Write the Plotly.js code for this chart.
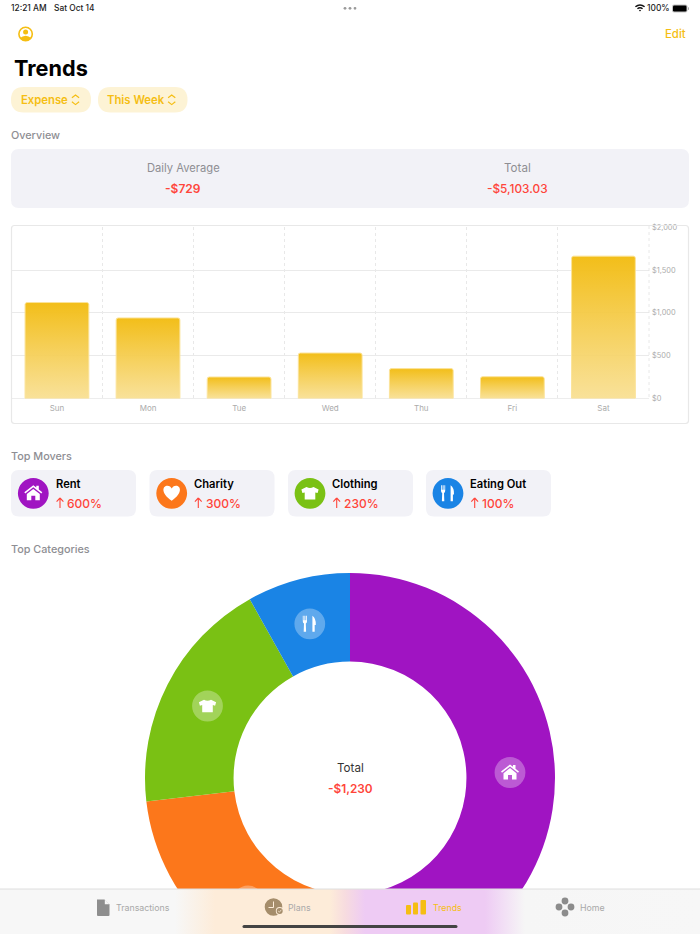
<!DOCTYPE html>
<html><head><meta charset="utf-8">
<script src="https://cdn.plot.ly/plotly-3.0.1.min.js"></script>
<style>html,body{margin:0;padding:0;width:700px;height:934px;overflow:hidden;background:#fff}</style>
</head><body><div id="chart" style="width:700px;height:1000px"></div>
<script>
// ---- data ----
const days = ['Sun','Mon','Tue','Wed','Thu','Fri','Sat'];
const dayValues = [1120,940,250,530,348,253,1662];
const yTickVals = [0,500,1000,1500,2000];
const yTickText = ['$0','$500','$1,000','$1,500','$2,000'];
const categories = ['Rent','Charity','Clothing','Eating Out'];
const categoryValues = [600,300,230,100];
const categoryColors = ['#A014C2','#FC771B','#7AC114','#1A84E5'];
const moverPercents = ['600%','300%','230%','100%'];

// ---- page geometry ----
const H = 1000, YEL = '#F5BE13', RED = '#FF453A', GREY = '#8E8E93', CARD = '#F2F2F7';
const FONT = 'Inter, "Noto Sans", sans-serif';
const shapes = [], annotations = [];
const rr = (x0,y0,x1,y1,r)=>`M${x0+r},${y0}L${x1-r},${y0}Q${x1},${y0} ${x1},${y0+r}L${x1},${y1-r}Q${x1},${y1} ${x1-r},${y1}L${x0+r},${y1}Q${x0},${y1} ${x0},${y1-r}L${x0},${y0+r}Q${x0},${y0} ${x0+r},${y0}Z`;
const tx = (p,cx,cy,s=1)=>p.replace(/(-?[\d.]+),(-?[\d.]+)/g,(m,a,b)=>`${(+a*s+cx).toFixed(2)},${(+b*s+cy).toFixed(2)}`);
function sPath(path,fill,extra={}){shapes.push(Object.assign({type:'path',xref:'x2',yref:'y2',path,fillcolor:fill,line:{width:0},layer:'above'},extra));return shapes.length-1;}
function sCirc(cx,cy,r,fill,extra={}){shapes.push(Object.assign({type:'circle',xref:'x2',yref:'y2',x0:cx-r,x1:cx+r,y0:cy-r,y1:cy+r,fillcolor:fill,line:{width:0},layer:'above'},extra));return shapes.length-1;}
function txt(text,x,y,size,color,weight=400,anchor='left'){annotations.push({xref:'x2',yref:'y2',x:anchor==='left'?x-1.5:x,y,text,showarrow:false,xanchor:anchor,yanchor:'middle',borderpad:0,font:{family:FONT,size,color,weight}});}

// icons, drawn around 0,0
const HOUSE='M-9,-1L0,-8L3,-5.7L3,-7.5L5.5,-7.5L5.5,-3.8L9,-1L8,0.3L0,-6L-8,0.3ZM-6.5,0.8L0,-4.4L6.5,0.8L6.5,7L2,7L2,2.5L-2,2.5L-2,7L-6.5,7Z';
const HEART='M0,7.5C-11.5,-0.5 -9,-7.5 -4.3,-7.5C-2.2,-7.5 -0.8,-6.2 0,-4.8C0.8,-6.2 2.2,-7.5 4.3,-7.5C9,-7.5 11.5,-0.5 0,7.5Z';
const SHIRT='M-3.5,-6.3Q0,-4.3 3.5,-6.3L8.6,-3.8L7.6,-0.3L5.3,-0.9L5.3,6.3L-5.3,6.3L-5.3,-0.9L-7.6,-0.3L-8.6,-3.8Z';
const CUTLERY='M-7,-8L-6.2,-8L-6.2,-3.6L-5.4,-3.6L-5.4,-8L-4.4,-8L-4.4,-3.6L-3.6,-3.6L-3.6,-8L-2.8,-8L-2.8,-2.5Q-2.8,-0.8 -4,-0.4L-3.7,8L-6.1,8L-5.8,-0.4Q-7,-0.8 -7,-2.5ZM2.6,-8Q6.3,-5.5 6,1.2L4.9,1.2L4.9,8L2.6,8Z';
const ICONS=[HOUSE,HEART,SHIRT,CUTLERY];

// ---- header ----
txt('12:21 AM',11.5,8.3,8.4,'#222',500);
txt('Sat Oct 14',54,8.3,8.4,'#222',500);
[345,350,355].forEach(x=>sCirc(x,8.3,1.4,'#9a9a9a'));
txt('100%',647.5,8.3,8.4,'#222',500);
sPath(tx('M-6,-2Q0,-7 6,-2L4.8,-0.8Q0,-4.6 -4.8,-0.8ZM-3.6,0.3Q0,-2.6 3.6,0.3L2.4,1.5Q0,-0.2 -2.4,1.5ZM-1.3,2.5Q0,1.5 1.3,2.5L0,4Z',640,8,0.85),'#111');
sPath(rr(672,4.5,687.5,12.5,2),'#c4c4c4');
sPath(rr(673,5.5,686.5,11.5,1.3),'#000');
sPath(rr(688,7,689,10,0.4),'#aaa');
// profile
sCirc(25.6,34,6.7,'rgba(0,0,0,0)',{line:{color:YEL,width:1.6}});
sCirc(25.6,32,2.5,YEL);
sPath(tx('M-6,4.2Q0,-0.8 6,4.2Q0,9.2 -6,4.2Z',25.6,34),YEL);
txt('Edit',665.5,34,11.4,YEL,500);
txt('Trends',14,67.5,21.7,'#000',700);
// pills
function chev(cx){const p='M-3.6,-2L0,-4.8L3.6,-2M-3.6,2L0,4.8L3.6,2';sPath(tx(p,cx,99.8),'rgba(0,0,0,0)',{line:{color:YEL,width:1.2}});}
sPath(rr(11,87,91,112.5,12.7),'#FDF3D5');
sPath(rr(98,87,187.5,112.5,12.7),'#FDF3D5');
txt('Expense',21.3,99.8,11.3,YEL,600);
txt('This Week',107.7,99.8,11.3,YEL,600);
chev(75.5);chev(171.7);
// overview
txt('Overview',11.5,135,10.8,GREY,500);
sPath(rr(11,149,689,208,8),CARD);
txt('Daily Average',183,167.6,11.2,GREY,400,'center');
txt('-$729',183,188.8,12,RED,600,'center');
txt('Total',517,167.6,11.6,GREY,400,'center');
txt('-$5,103.03',517,188.8,11.8,RED,500,'center');
// chart frame
sPath(rr(11.5,225.5,688.5,423.5,3),'rgba(0,0,0,0)',{layer:'below',line:{color:'#E8E8E8',width:1.2}});
sPath('M649,226L649,398','rgba(0,0,0,0)',{layer:'below',line:{color:'#E2E2E2',width:0.8,dash:'3px,3px'}});
// movers
txt('Top Movers',11.5,456.5,10.8,GREY,500);
const cardX=[11,149.5,288,426], circX=[33.3,171.7,310,448], textX=[56,194.3,332.7,470.7];
categories.forEach((c,i)=>{
  sPath(rr(cardX[i],470,cardX[i]+125,516.5,8),CARD);
  sCirc(circX[i],493.3,15.4,categoryColors[i]);
  sPath(tx(ICONS[i],circX[i],493.3,1),'#fff');
  txt(c,textX[i],484,11.2,'#000',600);
  sPath(tx('M0,-5L3.4,-1.4M0,-5L-3.4,-1.4M0,-5L0,5',textX[i]+4,503),'rgba(0,0,0,0)',{line:{color:RED,width:1.1}});
  txt(moverPercents[i],textX[i]+11.7,503,12,RED,500);
});
txt('Top Categories',11.5,549,10.8,GREY,500);
// donut icons and centre
const iconPos=[[510,772.5],[248,901],[207.5,706],[309.8,623.8]];
categories.forEach((c,i)=>{
  sCirc(iconPos[i][0],iconPos[i][1],15.4,'rgba(255,255,255,0.3)');
  sPath(tx(ICONS[i],iconPos[i][0],iconPos[i][1],1),'#fff');
});
txt('Total',350,768,11.6,'#333',400,'center');
txt('-$1,230',350,789,11.8,RED,600,'center');
// tab bar
const tabIdx=sPath('M0,889L700,889L700,934L0,934Z','#F7F7F7');
sPath('M0,889L700,889',"rgba(0,0,0,0)",{line:{color:'#DEDEDE',width:1}});
const TABTXT='#A9A9A9';
sPath('M97,899.5L104.5,899.5L109.5,904.5L109.5,915Q109.5,916 108.5,916L98,916Q97,916 97,915Z','#8E8E8E');
sPath('M104.8,899.5L109.5,904.3L104.8,904.3Z','#F7F7F7');
txt('Transactions',116,907.5,8.8,TABTXT,400);
sCirc(273.5,907,8.8,'#A58D6B');
sPath('M273.5,901.5L273.5,907.5L268.5,907.5','rgba(0,0,0,0)',{line:{color:'#FDECD9',width:1}});
sCirc(279.7,911,3.9,'#FDECD9');
sCirc(279.7,911,3,'#A58D6B');
sPath('M278.2,911L279.4,912.2L281.3,909.8','rgba(0,0,0,0)',{line:{color:'#FDECD9',width:0.8}});
txt('Plans',288,907.5,8.8,TABTXT,400);
sPath(rr(406,905,411,914.5,1),YEL);sPath(rr(413,902.5,418,914.5,1),YEL);sPath(rr(420.5,900,426,914.5,1),YEL);
txt('Trends',433,907.5,8.8,YEL,400);
[[565,901],[559,907],[571,907],[565,913]].forEach(p=>sCirc(p[0],p[1],3.4,'#8C8C8C'));
txt('Home',580,907.5,8.8,TABTXT,400);
sPath(rr(242.5,925,457.5,928,1.5),'#444');

// ---- traces ----
const barTrace={type:'bar',x:days,y:dayValues,xaxis:'x',yaxis:'y',width:0.7,hoverinfo:'skip',
  marker:{color:'#F5D055',cornerradius:2,line:{color:'#FBE39A',width:1}}};
const pieTrace={type:'pie',labels:categories,values:categoryValues,sort:false,direction:'clockwise',rotation:0,hole:0.568,
  textinfo:'none',hoverinfo:'skip',showlegend:false,marker:{colors:categoryColors,line:{width:0}},
  domain:{x:[145/700,555/700],y:[1-983/H,1-573/H]}};

const layout={width:700,height:H,margin:{l:0,r:0,t:0,b:0},paper_bgcolor:'#fff',plot_bgcolor:'rgba(0,0,0,0)',showlegend:false,
  font:{family:FONT},
  xaxis:{domain:[11.4/700,649/700],type:'category',categoryorder:'array',categoryarray:days,range:[-0.5,6.5],anchor:'y',tickson:'boundaries',
    showgrid:true,griddash:'3px,3px',gridcolor:'#E2E2E2',gridwidth:0.8,showline:false,zeroline:false,ticks:'',ticklen:0,ticklabelstandoff:4,
    tickfont:{family:FONT,size:8,color:'#ABABAB'},fixedrange:true},
  yaxis:{domain:[1-398.4/H,1-227.2/H],range:[0,2000],anchor:'x',side:'right',tickvals:yTickVals,ticktext:yTickText,ticklabelstandoff:2,
    gridcolor:'#EAEAEA',gridwidth:1,zeroline:true,zerolinecolor:'#EDEDED',zerolinewidth:1.5,showline:false,ticks:'',
    tickfont:{family:FONT,size:7.4,color:'#ABABAB'},fixedrange:true},
  xaxis2:{domain:[0,1],range:[0,700],anchor:'y2',visible:false,fixedrange:true},
  yaxis2:{domain:[0,1],range:[H,0],anchor:'x2',visible:false,fixedrange:true},
  shapes,annotations};

Plotly.newPlot('chart',[barTrace,pieTrace],layout,{staticPlot:true,displayModeBar:false}).then(gd=>{
  const NS='http://www.w3.org/2000/svg';
  const svg=gd.querySelector('svg.main-svg');
  let defs=svg.querySelector('defs');
  const mk=(id,x2,y2,stops)=>{const g=document.createElementNS(NS,'linearGradient');g.setAttribute('id',id);
    g.setAttribute('x1','0');g.setAttribute('y1','0');g.setAttribute('x2',x2);g.setAttribute('y2',y2);
    stops.forEach(s=>{const e=document.createElementNS(NS,'stop');e.setAttribute('offset',s[0]);e.setAttribute('stop-color',s[1]);if(s[2]!=null)e.setAttribute('stop-opacity',s[2]);g.appendChild(e);});
    defs.appendChild(g);};
  mk('barGrad','0','1',[[0,'#F2BC12',0.97],[1,'#F8DE8E',0.9]]);
  mk('tabGrad','1','0',[[0,'#F7F7F7'],[175/700,'#F7F7F7'],[215/700,'#FDECD9'],[330/700,'#FDECD9'],[345/700,'#F7DCDF'],[365/700,'#EECBF4'],[485/700,'#EECBF4'],[525/700,'#F6F6F6'],[1,'#F7F7F7']]);
  gd.querySelectorAll('.bars .point path').forEach(p=>{p.style.fill='url(#barGrad)';p.style.fillOpacity=1;});
  const t=gd.querySelector('.layer-above .shapelayer path[data-index="'+tabIdx+'"]');
  if(t){t.style.fill='url(#tabGrad)';t.style.fillOpacity=1;}
});
</script></body></html>
